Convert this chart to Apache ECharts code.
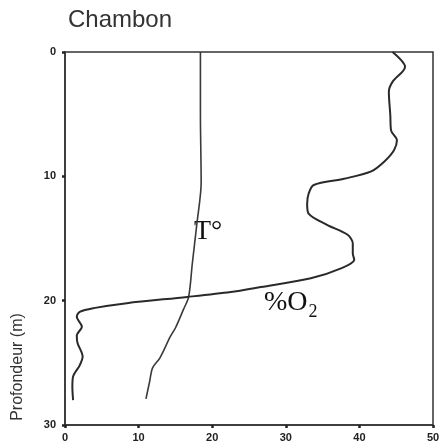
<!DOCTYPE html>
<html><head><meta charset="utf-8">
<script src="https://cdn.jsdelivr.net/npm/echarts@6/dist/echarts.min.js"></script>
<style>html,body{margin:0;padding:0;background:#fff}#c{width:440px;height:444px}</style>
</head><body><div id="c"></div>
<script>
const title = "Chambon";
const yName = "Profondeur (m)";
const xTicks = [0, 10, 20, 30, 40, 50];
const yTicks = [0, 10, 20, 30];
// Temperature profile: depth (m) and value
const tDepth = [0, 5, 10.5, 13.9, 17, 19.7, 20.7, 22.2, 22.9, 24.6, 25.4, 26.5, 27.9];
const tValue = [18.4, 18.4, 18.5, 17.9, 17.3, 16.8, 16.1, 15.0, 14.3, 12.9, 11.9, 11.5, 11.0];
// Oxygen profile
const oDepth = [0, 1.2, 2.4, 3.2, 5.1, 6.3, 7.1, 7.9, 8.8, 9.6, 10.2, 10.7, 11.4, 12.2, 13.0, 13.9, 14.7, 15.4, 16.2, 16.7, 17.4, 18.2, 18.9, 19.3, 19.7, 20.2, 20.6, 20.9, 21.3, 22.1, 22.8, 23.4, 24.5, 25.2, 26.1, 26.9, 28.0];
const oValue = [44.5, 46.2, 44.5, 44.0, 44.2, 44.3, 45.1, 44.7, 43.4, 41.6, 37.9, 33.8, 33.1, 32.9, 33.1, 35.6, 38.4, 39.1, 39.1, 39.3, 37.5, 33.4, 26.6, 22.5, 16.6, 8.4, 3.9, 2.0, 1.6, 2.3, 1.6, 1.7, 2.4, 2.0, 1.1, 1.0, 1.1];

const chart = echarts.init(document.getElementById('c'));
const axisCommon = {
  axisLine: {show: true, onZero: false, lineStyle: {color: '#333', width: 1.5}},
  axisTick: {show: true, length: 3, inside: false, lineStyle: {color: '#222', width: 2.5}},
  splitLine: {show: false},
  axisLabel: {color: '#222', fontFamily: 'Liberation Sans, Arial', fontWeight: 'bold', fontSize: 11}
};
chart.setOption({
  animation: false,
  title: {text: title, left: 63, top: 3, textStyle: {fontFamily: 'Liberation Sans, Arial', fontSize: 24, fontWeight: 'normal', color: '#333'}},
  grid: {left: 65, right: 7, top: 52, bottom: 19, containLabel: false, outerBoundsMode: 'none', show: true, borderColor: '#333', borderWidth: 1.5},
  xAxis: Object.assign({}, axisCommon, {type: 'value', position: 'bottom', min: xTicks[0], max: xTicks[xTicks.length-1], interval: 10,
    axisLabel: Object.assign({}, axisCommon.axisLabel, {margin: 7})}),
  yAxis: Object.assign({}, axisCommon, {type: 'value', position: 'left', inverse: true, min: yTicks[0], max: yTicks[yTicks.length-1], interval: 10,
    axisLabel: Object.assign({}, axisCommon.axisLabel, {margin: 9})}),
  series: [
    {type: 'line', data: tDepth.map((d, i) => [tValue[i], d]), smooth: 0.3, symbol: 'none',
     lineStyle: {color: '#3a3a3a', width: 1.6}},
    {type: 'line', data: oDepth.map((d, i) => [oValue[i], d]), smooth: 0.3, symbol: 'none',
     lineStyle: {color: '#2a2a2a', width: 2}}
  ],
  graphic: [
    {type: 'text', x: 18, y: 367, rotation: Math.PI / 2,
     style: {text: yName, font: '16px "Liberation Sans", Arial, sans-serif', fill: '#333', align: 'center', verticalAlign: 'middle'}},
    {type: 'text', left: 194, top: 218, style: {text: 'T°', font: '28px "Liberation Serif", "Times New Roman", serif', fill: '#111'}},
    {type: 'text', left: 264, top: 289, style: {text: '{a|%O}{b|2}', font: '28px "Liberation Serif", serif', fill: '#111',
      rich: {a: {font: '28px "Liberation Serif", serif', fill: '#111', verticalAlign: 'bottom'},
             b: {font: '18px "Liberation Serif", serif', fill: '#111', verticalAlign: 'bottom', padding: [0,0,-4,1]}}}}
  ]
});
</script></body></html>
